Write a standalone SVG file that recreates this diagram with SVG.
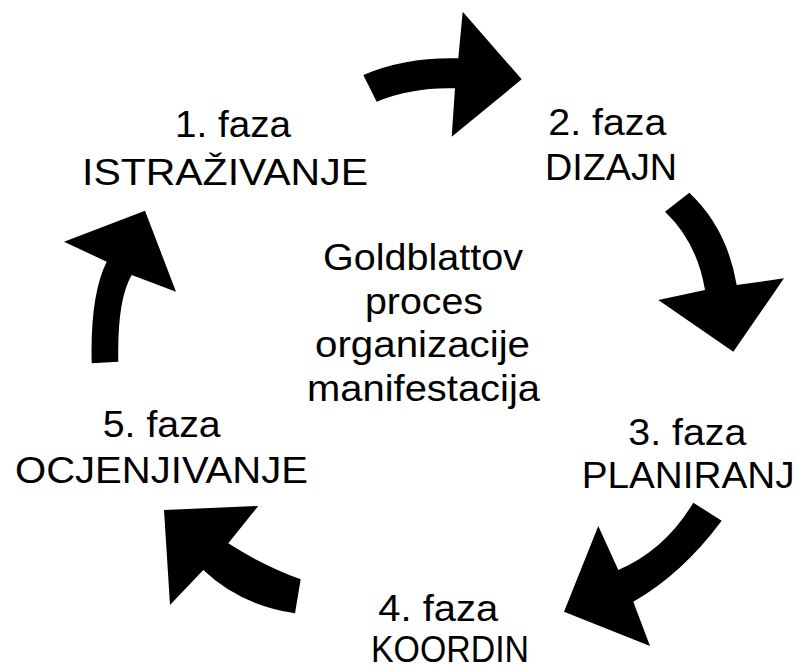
<svg xmlns="http://www.w3.org/2000/svg" width="799" height="670" viewBox="0 0 799 670">
<style>
text{font-family:"Liberation Sans",Arial,sans-serif;font-size:37px;fill:#000;}
.ar{fill:#000;stroke:none;}
</style>
<rect width="799" height="670" fill="#fff"/>
<g id="connectors">
<path class="ar" d="M376.7,101.7 Q412,87 455,88.3 L451.7,136.7 L521.7,79.3 L462.7,11.7 L458.3,58.3 Q405,57 363.3,75 Z"/>
<path class="ar" d="M665,211.7 Q697,242 705,290 L658.3,300 L733.3,351.7 L784,278.3 L736.7,285 Q727,228 689.3,192.7 Z"/>
<path class="ar" d="M693.3,502.7 Q665,550 618.3,570 L598.3,526 L564,611.7 L650,646 L633.3,601.7 Q682,574 721.7,520.7 Z"/>
<path class="ar" d="M300.7,579.3 Q262,565 228.3,543.3 L258.3,506 L164,510 L170,605 L203.3,570 Q240,605 295,613.3 Z"/>
<path class="ar" d="M118.3,361.7 Q117,300 131.7,275 L176,291.7 L145,210.7 L64,241.7 L106.7,261.7 Q90,295 91.7,363.3 Z"/>
</g>
<g id="center">
<text x="323" y="270" textLength="200" lengthAdjust="spacingAndGlyphs">Goldblattov</text>
<text x="365" y="313.5" textLength="118" lengthAdjust="spacingAndGlyphs">proces</text>
<text x="315" y="357" textLength="215" lengthAdjust="spacingAndGlyphs">organizacije</text>
<text x="307" y="400.5" textLength="233" lengthAdjust="spacingAndGlyphs">manifestacija</text>
</g>
<g id="faza1">
<text x="175" y="137" textLength="116" lengthAdjust="spacingAndGlyphs">1. faza</text>
<text x="82" y="185" textLength="286" lengthAdjust="spacingAndGlyphs">ISTRAŽIVANJE</text>
</g>
<g id="faza2">
<text x="548.3" y="135" textLength="118" lengthAdjust="spacingAndGlyphs">2. faza</text>
<text x="545" y="180" textLength="132" lengthAdjust="spacingAndGlyphs">DIZAJN</text>
</g>
<g id="faza3">
<text x="628.3" y="445" textLength="118" lengthAdjust="spacingAndGlyphs">3. faza</text>
<text x="581.7" y="488.3" textLength="213" lengthAdjust="spacingAndGlyphs">PLANIRANJ</text>
</g>
<g id="faza4">
<text x="378.3" y="620.7" textLength="120" lengthAdjust="spacingAndGlyphs">4. faza</text>
<text x="371" y="662" textLength="158" lengthAdjust="spacingAndGlyphs">KOORDIN</text>
</g>
<g id="faza5">
<text x="102.7" y="436.7" textLength="118" lengthAdjust="spacingAndGlyphs">5. faza</text>
<text x="15" y="483.3" textLength="293" lengthAdjust="spacingAndGlyphs">OCJENJIVANJE</text>
</g>
</svg>
